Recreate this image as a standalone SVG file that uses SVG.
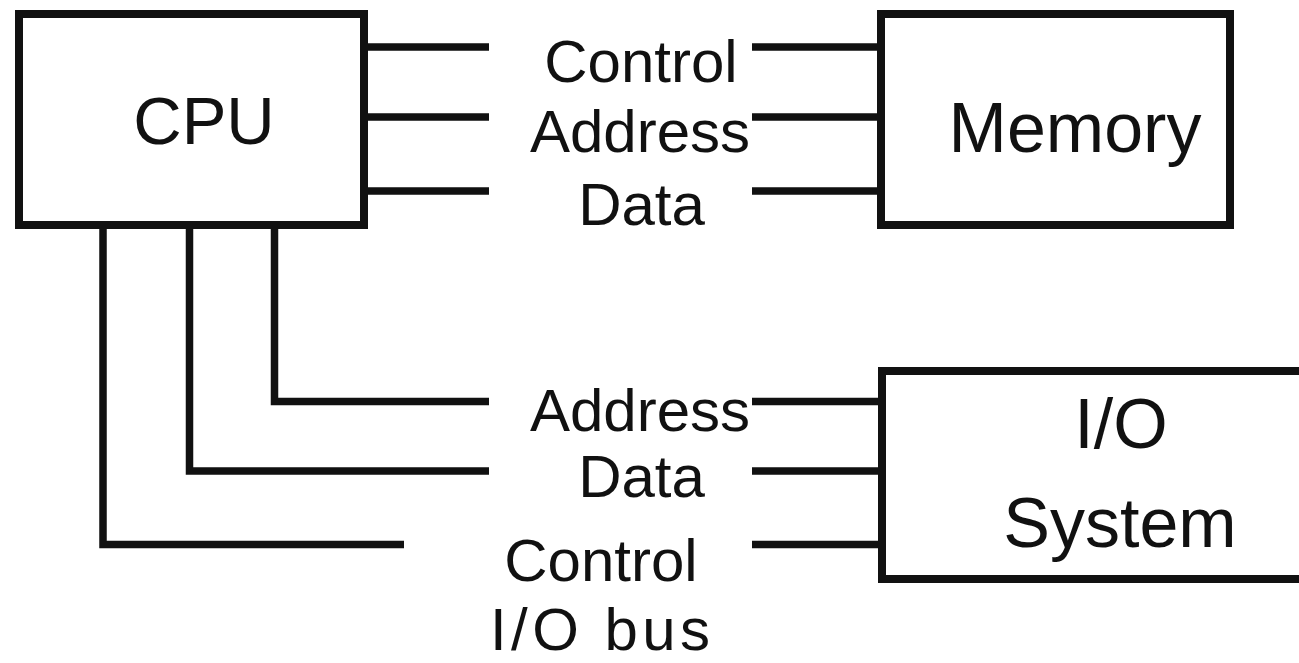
<svg xmlns="http://www.w3.org/2000/svg" width="1299" height="663" viewBox="0 0 1299 663">
  <style>
    .box { fill: #ffffff; stroke: #111111; stroke-width: 8; }
    .wire { fill: none; stroke: #111111; stroke-width: 7.5; stroke-linejoin: miter; stroke-linecap: butt; }
    .label { font-family: "Liberation Sans", Arial, sans-serif; font-size: 60px; fill: #111111; text-anchor: middle; }
    .title { font-family: "Liberation Sans", Arial, sans-serif; font-size: 70px; fill: #111111; text-anchor: middle; }
  </style>
  <rect width="1299" height="663" fill="#ffffff"/>

  <!-- bus wires -->
  <g id="connectors">
    <!-- CPU to memory bus -->
    <path class="wire" d="M364,47 H489 M364,117 H489 M364,191 H489"/>
    <path class="wire" d="M752,47 H881 M752,117 H881 M752,191 H881"/>
    <!-- CPU to I/O bus -->
    <path class="wire" d="M274.5,225 V401.5 H489"/>
    <path class="wire" d="M189.5,225 V471 H489"/>
    <path class="wire" d="M103,225 V544.5 H404"/>
    <path class="wire" d="M752,401.5 H882 M752,471 H882 M752,544.5 H882"/>
  </g>

  <!-- bus line labels -->
  <g id="bus-labels">
    <text class="label" x="641" y="82">Control</text>
    <text class="label" x="640" y="152">Address</text>
    <text class="label" x="641.5" y="225">Data</text>
    <text class="label" x="640" y="431">Address</text>
    <text class="label" x="641.5" y="497">Data</text>
    <text class="label" x="601" y="581">Control</text>
    <text class="label" x="600" y="650" textLength="220" lengthAdjust="spacing">I/O bus</text>
  </g>

  <g id="cpu">
    <rect class="box" x="19" y="14" width="345" height="211"/>
    <text class="title" x="204" y="144" style="font-size:67px">CPU</text>
  </g>

  <g id="memory">
    <rect class="box" x="881" y="14" width="349" height="211"/>
    <text class="title" x="1075" y="152">Memory</text>
  </g>

  <g id="io-system">
    <rect class="box" x="882" y="371" width="440" height="208"/>
    <text class="title" x="1121" y="448">I/O</text>
    <text class="title" x="1120" y="547">System</text>
  </g>
</svg>
